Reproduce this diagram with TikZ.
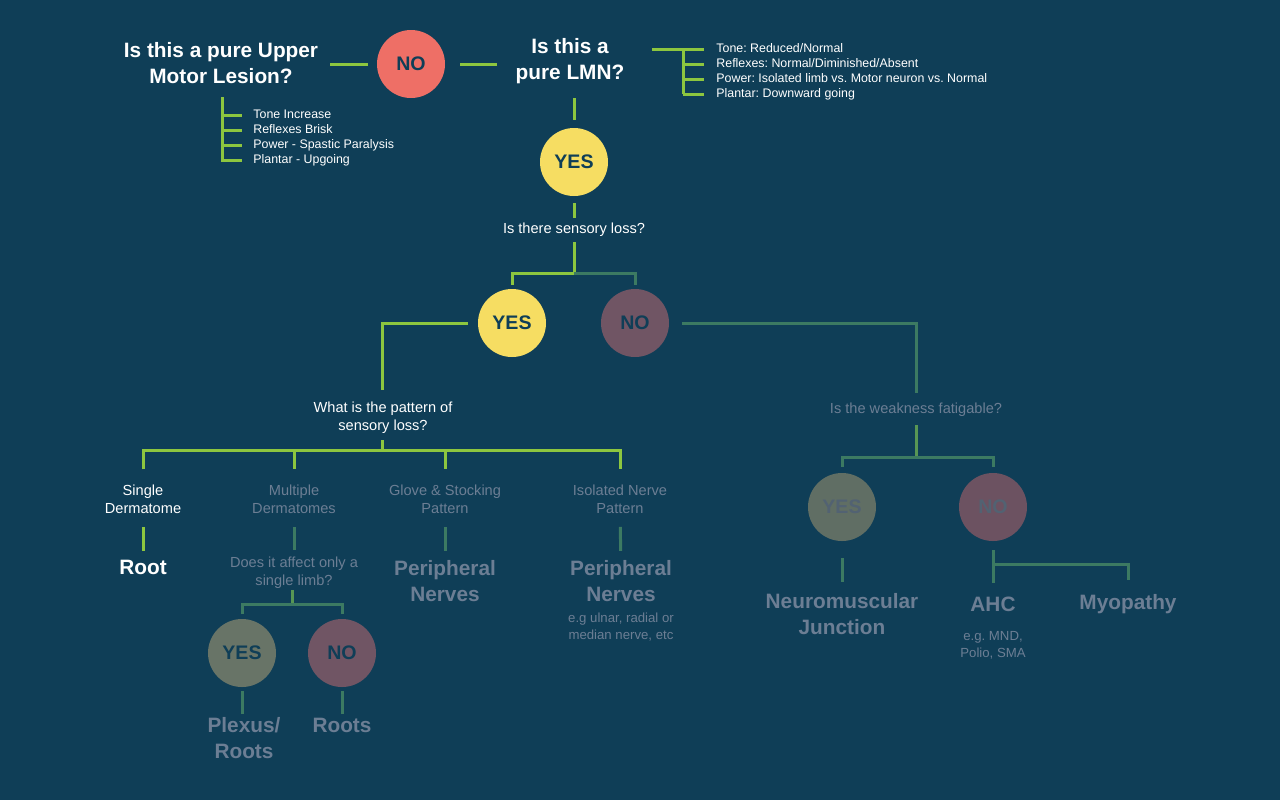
\documentclass[tikz,border=0pt]{standalone}
\usepackage{fontspec}
\setmainfont{Liberation Sans}
\usetikzlibrary{calc}
\frenchspacing

\definecolor{bgc}{RGB}{15,62,87}
\definecolor{lgreen}{RGB}{141,198,63}
\definecolor{mgreen}{RGB}{88,150,84}
\definecolor{dgreen}{RGB}{60,122,98}
\definecolor{coral}{RGB}{238,111,102}
\definecolor{yel}{RGB}{246,221,98}
\definecolor{dimno}{RGB}{112,85,100}
\definecolor{dimyes}{RGB}{104,116,103}
\definecolor{fadeno}{RGB}{108,82,97}
\definecolor{fadeyes}{RGB}{96,110,100}
\definecolor{dtext}{RGB}{108,126,148}
\definecolor{ftext}{RGB}{82,98,114}

\begin{document}
\begin{tikzpicture}[x=0.5pt, y=-0.5pt, every node/.style={inner sep=0pt},
    circ/.style={circle, minimum size=34pt, font=\fontsize{9.8}{10}\selectfont\bfseries, text=bgc},
    yesc/.style={circ, fill=yel}, noc/.style={circ, fill=coral},
    dyes/.style={circ, fill=dimyes}, dno/.style={circ, fill=dimno},
    fyes/.style={circ, fill=fadeyes, text=ftext}, fno/.style={circ, fill=fadeno, text=ftext},
    title/.style={text=white, align=center, font=\fontsize{10.4}{13}\selectfont\bfseries},
    res/.style={align=center, font=\fontsize{10.4}{13}\selectfont\bfseries, text=dtext},
    ques/.style={align=center, font=\fontsize{7.3}{9}\selectfont, text=white},
    dques/.style={ques, text=dtext},
    note/.style={align=center, font=\fontsize{6.6}{8.5}\selectfont, text=dtext},
    item/.style={anchor=west, text=white, font=\fontsize{6.2}{7.5}\selectfont, text height=4.5pt, text depth=1.3pt},
    gl/.style={draw=lgreen, line width=1.5pt},
    ml/.style={draw=mgreen, line width=1.5pt},
    dl/.style={draw=dgreen, line width=1.5pt}]
  \fill[bgc] (0,0) rectangle (1280,800);

  % top row
  \node[title] (umn) at (221,63) {Is this a pure Upper\\Motor Lesion?};
  \node[noc] (no1) at (411,64) {NO};
  \node[title] (lmn) at (570,61) {Is this a\\pure LMN?};
  \draw[gl] ([xshift=6pt]umn.east |- no1) -- ([xshift=-4.5pt]no1.west);
  \draw[gl] ([xshift=7.5pt]no1.east) -- ([xshift=-9pt]lmn.west |- no1);

  % upper motor signs
  \node[item] (ut1) at (253,115) {Tone Increase};
  \node[item] (ut2) at (253,130) {Reflexes Brisk};
  \node[item] (ut3) at (253,145) {Power - Spastic Paralysis};
  \node[item] (ut4) at (253,160) {Plantar - Upgoing};
  \coordinate (ub) at (222,97);
  \draw[gl] (ub) |- ([xshift=-5.5pt]ut4.west);
  \foreach \i in {1,2,3}
    \draw[gl] (ub |- ut\i) -- ([xshift=-5.5pt]ut\i.west);

  % lower motor signs
  \node[item] (lt1) at (716,49) {Tone: Reduced/Normal};
  \node[item] (lt2) at (716,64) {Reflexes: Normal/Diminished/Absent};
  \node[item] (lt3) at (716,79) {Power: Isolated limb vs. Motor neuron vs. Normal};
  \node[item] (lt4) at (716,94) {Plantar: Downward going};
  \draw[gl] ([xshift=-32pt]lt1.west) -- ([xshift=-6pt]lt1.west);
  \draw[gl] ([xshift=-16.5pt]lt1.west) -- ([xshift=-16.5pt]lt4.west);
  \foreach \i in {2,3,4}
    \draw[gl] ([xshift=-16.5pt]lt\i.west) -- ([xshift=-6pt]lt\i.west);

  % sensory loss
  \node[yesc] (yes1) at (574,162) {YES};
  \node[ques] (sens) at (574,230) {Is there sensory loss?};
  \node[yesc] (yes2) at (512,323) {YES};
  \node[dno] (no2) at (635,323) {NO};
  \coordinate (sj) at (574,273);
  \draw[gl, shorten <=7pt, shorten >=4pt] (lmn.south -| yes1) -- (yes1.north);
  \draw[gl, shorten <=3.5pt, shorten >=2.5pt] (yes1.south) -- (sens.north -| yes1);
  \draw[gl] ([yshift=-2.5pt]sens.south) -- (sj) -| ([yshift=2pt]yes2.north);
  \draw[dl] (sj) -| ([yshift=2pt]no2.north);

  % pattern of sensory loss
  \node[ques] (pat) at (383,418) {What is the pattern of\\sensory loss?};
  \draw[gl] ([xshift=-5pt]yes2.west) -| ([yshift=6pt]pat.north -| 382,0);
  \node[ques] (single) at (143,499) {Single\\Dermatome};
  \node[dques] (multi) at (294,499) {Multiple\\Dermatomes};
  \node[dques] (glove) at (445,499) {Glove \& Stocking\\Pattern};
  \node[dques] (isol) at (620,499) {Isolated Nerve\\Pattern};
  \coordinate (pj) at (382,450);
  \draw[gl] ([yshift=-3pt]pat.south -| pj) -- (pj);
  \draw[gl] ([yshift=7.5pt]single.north) -- (single.north |- pj) -- (isol.north |- pj) -- ([yshift=7.5pt]isol.north);
  \foreach \n in {multi,glove}
    \draw[gl] (\n.north |- pj) -- ([yshift=7.5pt]\n.north);

  \node[title] (root) at (143,567) {Root};
  \node[dques] (limb) at (294,573) {Does it affect only a\\single limb?};
  \node[res] (pn1) at (445,581) {Peripheral\\Nerves};
  \node[res] (pn2) at (621,581) {Peripheral\\Nerves};
  \node[note] (eg1) at (621,627) {e.g ulnar, radial or\\median nerve, etc};
  \draw[gl, shorten <=6.5pt, shorten >=4pt] (single) -- (root);
  \draw[dl, shorten <=6.5pt, shorten >=3.5pt] (multi) -- (limb);
  \draw[dl, shorten <=6.5pt, shorten >=4.5pt] (glove) -- (pn1);
  \draw[dl, shorten <=6.5pt, shorten >=4.5pt] (isol) -- (pn2);

  % single limb
  \node[dyes] (yes3) at (242,653) {YES};
  \node[dno] (no3) at (342,653) {NO};
  \coordinate (lj) at (292,604);
  \draw[ml] ([yshift=-0.5pt]limb.south -| lj) -- (lj);
  \draw[dl] ([yshift=2.5pt]yes3.north) -- (yes3.north |- lj) -- (no3.north |- lj) -- ([yshift=2.5pt]no3.north);
  \node[res] (plexus) at (244,738) {Plexus/\\Roots};
  \node[res] (roots) at (342,725) {Roots};
  \draw[dl, shorten <=2pt, shorten >=1.5pt] (yes3.south) -- (plexus.north -| yes3);
  \draw[dl, shorten <=2pt, shorten >=1.5pt] (no3) -- (roots);

  % fatigable weakness
  \node[dques] (fat) at (916,410) {Is the weakness fatigable?};
  \draw[dl] ([xshift=6.5pt]no2.east) -| ([yshift=5pt]fat.north);
  \node[fyes] (yes4) at (842,507) {YES};
  \node[fno] (no4) at (993,507) {NO};
  \coordinate (fj) at (916,457);
  \draw[ml] ([yshift=-4pt]fat.south) -- (fj);
  \draw[dl] ([yshift=3pt]yes4.north) -- (yes4.north |- fj) -- (no4.north |- fj) -- ([yshift=3pt]no4.north);

  \node[res] (nmj) at (842,614) {Neuromuscular\\Junction};
  \node[res] (ahc) at (993,604) {AHC};
  \node[note] (eg2) at (993,645) {e.g. MND,\\Polio, SMA};
  \node[res] (myo) at (1128,604) {Myopathy};
  \coordinate (nj) at (993,564);
  \draw[dl, shorten <=8.5pt, shorten >=5.25pt] (yes4.south) -- (nmj.north -| yes4);
  \draw[dl] ([yshift=-4.5pt]no4.south) -- ([yshift=6.75pt]ahc.north);
  \draw[dl] (nj) -| ([yshift=6.75pt]myo.north);
\end{tikzpicture}
\end{document}
